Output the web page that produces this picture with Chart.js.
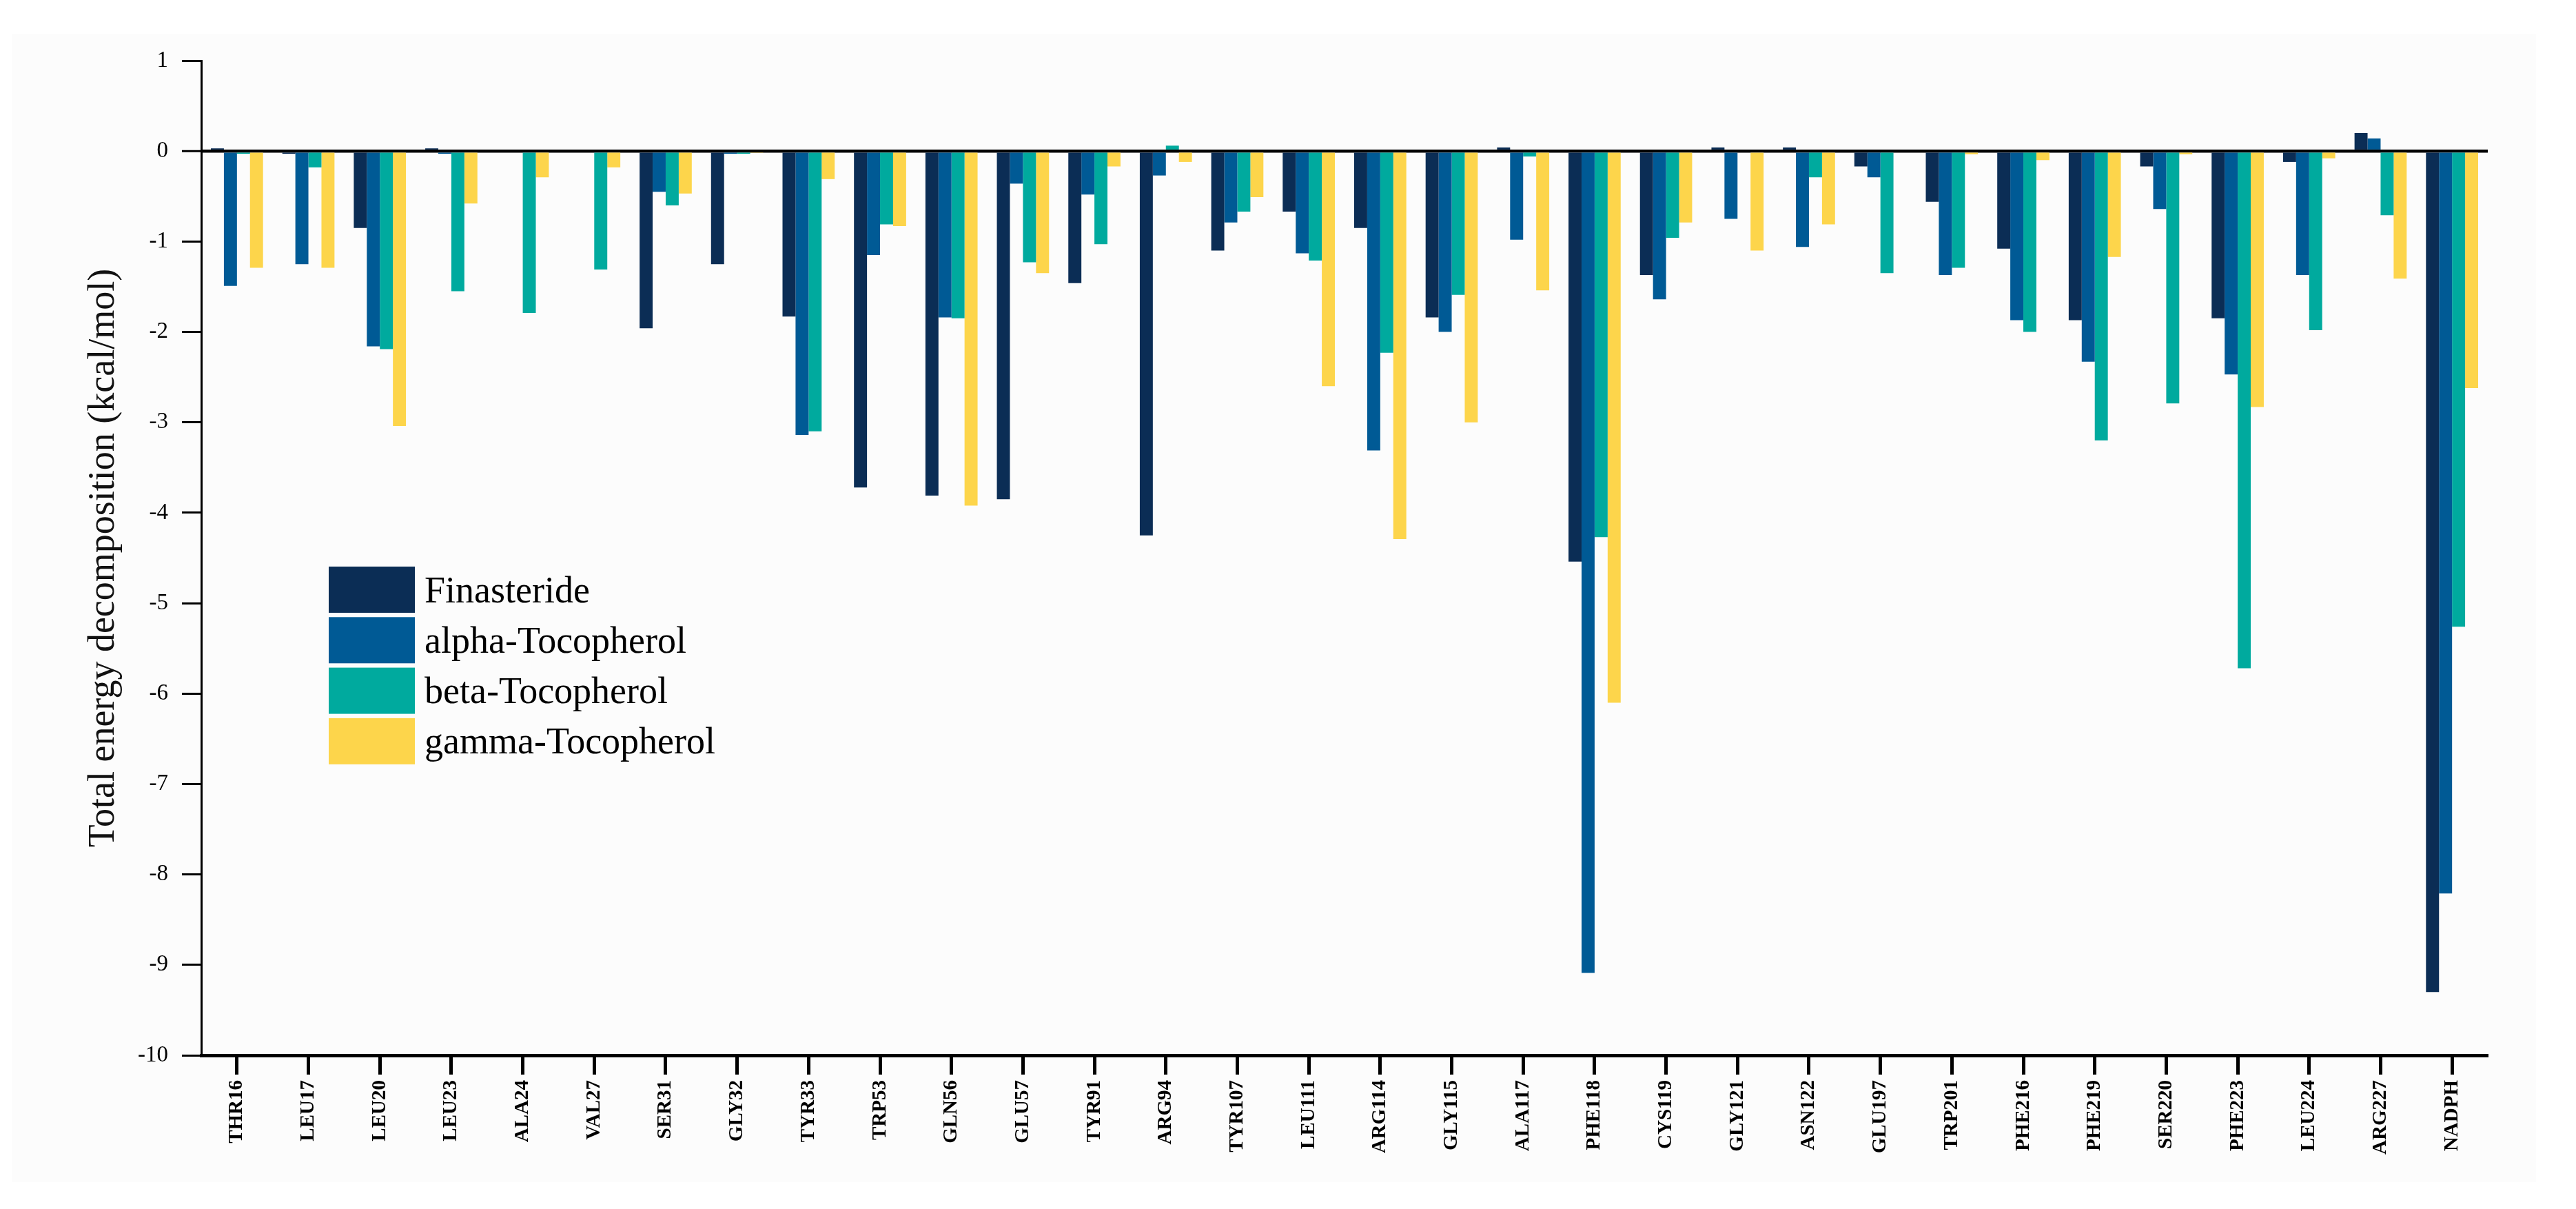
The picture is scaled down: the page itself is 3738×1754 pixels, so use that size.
<!DOCTYPE html>
<html>
<head>
<meta charset="utf-8">
<script src="https://cdn.jsdelivr.net/npm/chart.js@4.4.0/dist/chart.umd.min.js"></script>
<style>
  html, body { margin: 0; padding: 0; background: #ffffff; }
  #wrap { width: 3738px; height: 1754px; }
</style>
</head>
<body>
<div id="wrap"><canvas id="c" width="3738" height="1754"></canvas></div>
<script>
const residues = ["THR16","LEU17","LEU20","LEU23","ALA24","VAL27","SER31","GLY32","TYR33","TRP53","GLN56","GLU57","TYR91","ARG94","TYR107","LEU111","ARG114","GLY115","ALA117","PHE118","CYS119","GLY121","ASN122","GLU197","TRP201","PHE216","PHE219","SER220","PHE223","LEU224","ARG227","NADPH"];

const finasteride = [0.03,-0.03,-0.85,0.03,0,0,-1.96,-1.25,-1.83,-3.72,-3.81,-3.85,-1.46,-4.25,-1.10,-0.67,-0.85,-1.84,0.04,-4.54,-1.37,0.04,0.04,-0.17,-0.56,-1.08,-1.87,-0.17,-1.85,-0.12,0.20,-9.30];
const alphaToc    = [-1.49,-1.25,-2.16,-0.03,0,0,-0.45,-0.03,-3.14,-1.15,-1.84,-0.36,-0.48,-0.27,-0.79,-1.13,-3.31,-2.00,-0.98,-9.09,-1.64,-0.75,-1.06,-0.29,-1.37,-1.87,-2.33,-0.64,-2.47,-1.37,0.14,-8.21];
const betaToc     = [-0.03,-0.18,-2.19,-1.55,-1.79,-1.31,-0.60,-0.03,-3.10,-0.81,-1.85,-1.23,-1.03,0.06,-0.67,-1.21,-2.23,-1.59,-0.06,-4.27,-0.96,0,-0.29,-1.35,-1.29,-2.00,-3.20,-2.79,-5.72,-1.98,-0.71,-5.26];
const gammaToc    = [-1.29,-1.29,-3.04,-0.58,-0.29,-0.18,-0.47,-0.02,-0.31,-0.83,-3.92,-1.35,-0.17,-0.12,-0.51,-2.60,-4.29,-3.00,-1.54,-6.10,-0.79,-1.10,-0.81,0,-0.035,-0.10,-1.17,-0.035,-2.83,-0.08,-1.41,-2.62];

const seriesNames = ["Finasteride","alpha-Tocopherol","beta-Tocopherol","gamma-Tocopherol"];
const seriesColors = ["#0b2d55","#005a95","#00aa9e","#fdd54b"];
const yTitle = "Total energy decomposition (kcal/mol)";

const SERIF = "'Liberation Serif', 'Times New Roman', serif";

const bgPlugin = {
  id: 'bg',
  beforeDraw(chart) {
    const ctx = chart.ctx;
    ctx.save();
    ctx.fillStyle = '#ffffff';
    ctx.fillRect(0, 0, chart.width, chart.height);
    ctx.fillStyle = '#fcfcfc';
    ctx.fillRect(17, 49, 3663, 1666);
    ctx.restore();
  }
};

const legendPlugin = {
  id: 'customLegend',
  afterDraw(chart) {
    const ctx = chart.ctx;
    ctx.save();
    const x0 = 477, y0 = 822, bw = 125, bh = 67, pitch = 73.3;
    ctx.font = "54px " + SERIF;
    ctx.textBaseline = 'alphabetic';
    ctx.textAlign = 'left';
    chart.data.datasets.forEach((ds, i) => {
      const y = y0 + i * pitch;
      ctx.fillStyle = ds.backgroundColor;
      ctx.fillRect(x0, y, bw, bh);
      ctx.fillStyle = '#000000';
      ctx.fillText(ds.label, 616, y + bh / 2 + 18);
    });
    ctx.restore();
  }
};

const seriesData = [finasteride, alphaToc, betaToc, gammaToc];

new Chart(document.getElementById('c'), {
  type: 'bar',
  data: {
    labels: residues,
    datasets: seriesData.map((d, i) => ({
      label: seriesNames[i],
      data: d,
      backgroundColor: seriesColors[i],
      borderWidth: 0,
      categoryPercentage: 0.73,
      barPercentage: 1.0
    }))
  },
  options: {
    responsive: false,
    devicePixelRatio: 1,
    animation: false,
    layout: { padding: { left: 0, right: 128, top: 88, bottom: 0 } },
    plugins: {
      legend: { display: false },
      tooltip: { enabled: false }
    },
    scales: {
      x: {
        type: 'category',
        offset: true,
        afterFit(scale) { scale.height = 223; },
        grid: {
          offset: false,
          drawOnChartArea: false,
          drawTicks: true,
          tickLength: 28,
          tickWidth: 5,
          tickColor: '#000000'
        },
        border: { display: true, color: '#000000', width: 5 },
        ticks: {
          autoSkip: false,
          minRotation: 90,
          maxRotation: 90,
          padding: 8,
          color: '#000000',
          font: { family: SERIF, size: 29, weight: 'bold' }
        }
      },
      y: {
        min: -10,
        max: 1,
        afterFit(scale) { scale.width = 292; },
        grid: {
          drawOnChartArea: true,
          drawTicks: true,
          color: (c) => (c.tick && c.tick.value === 0) ? '#000000' : 'rgba(0,0,0,0)',
          lineWidth: (c) => (c.tick && c.tick.value === 0) ? 4.5 : 1,
          tickLength: 28,
          tickWidth: 3,
          tickColor: '#000000'
        },
        border: { display: true, color: '#000000', width: 3 },
        ticks: {
          stepSize: 1,
          padding: 20,
          color: '#000000',
          font: { family: SERIF, size: 33 }
        },
        title: {
          display: true,
          text: yTitle,
          color: '#111111',
          font: { family: SERIF, size: 54 },
          padding: { top: 118, bottom: 0 }
        }
      }
    }
  },
  plugins: [bgPlugin, legendPlugin]
});
</script>
</body>
</html>
